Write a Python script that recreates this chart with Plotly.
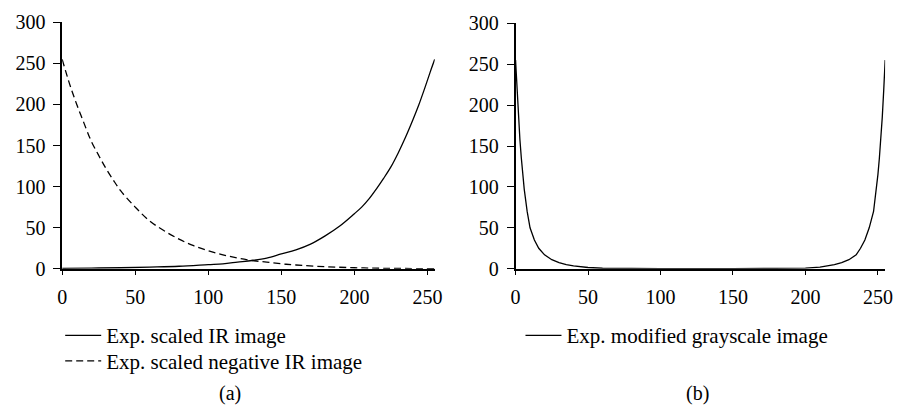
import plotly.graph_objects as go

# ---- data ----
ir_x = [0, 20, 40, 60, 80, 100, 110, 120, 130, 140, 150, 160, 170, 180, 190, 200, 205, 210, 215, 220, 225, 230,
        235, 240, 244, 248, 252, 255]
ir_y = [0.5, 0.8, 1.2, 2, 3, 5, 6, 8, 10, 13, 18, 23, 30, 40, 52, 67, 75, 85, 97, 110, 124, 141,
        160, 181, 199, 219, 240, 255]

neg_x = [0, 3, 6, 10, 15, 20, 25, 30, 35, 40, 50, 60, 70, 80, 90, 100, 110, 120, 130, 140, 150, 160, 180, 200, 220, 255]
neg_y = [255, 237, 220, 200, 177, 155, 138, 122, 108, 95, 75, 58, 46, 36, 28, 22, 17, 13, 10, 8, 6, 4.5, 2.5, 1.2, 0.5, 0]

gray_x = [0, 1, 2, 3, 4, 5, 6, 8, 10, 13, 16, 20, 25, 30, 35, 40, 50, 60, 80, 100, 150, 180, 200, 210, 215, 220,
          225, 230, 235, 238, 241, 244, 247, 249, 250, 251, 252, 253, 254, 255]
gray_y = [255, 218, 185, 158, 135, 115, 97, 70, 50, 35, 25, 17, 11, 7.5, 5, 3.5, 1.5, 0.6, 0.1, 0, 0, 0.1, 0.8, 2,
          3.5, 5, 7.5, 11, 17, 25, 35, 50, 70, 97, 115, 135, 158, 185, 218, 255]

x_ticks = [0, 50, 100, 150, 200, 250]
y_ticks = [0, 50, 100, 150, 200, 250, 300]
names = ["Exp. scaled IR image", "Exp. scaled negative IR image", "Exp. modified grayscale image"]
panel_labels = ["(a)", "(b)"]

W, H = 904, 419
FONT = "Liberation Serif"

def px(v):
    return v / W

def py(v):
    return 1 - v / H

fig = go.Figure()
fig.add_trace(go.Scatter(x=ir_x, y=ir_y, mode="lines", name=names[0], line_shape="spline",
                         line=dict(color="black", width=1.3), xaxis="x", yaxis="y", legend="legend"))
fig.add_trace(go.Scatter(x=neg_x, y=neg_y, mode="lines", name=names[1], line_shape="spline",
                         line=dict(color="black", width=1.3, dash="7px,4px"), xaxis="x", yaxis="y", legend="legend3"))
fig.add_trace(go.Scatter(x=gray_x, y=gray_y, mode="lines", name=names[2],
                         line=dict(color="black", width=1.3), xaxis="x2", yaxis="y2", legend="legend2"))

axis_common = dict(showgrid=False, zeroline=False, showline=True, linecolor="black", linewidth=1.5,
                   ticks="outside", tickcolor="black", tickwidth=1.2,
                   tickfont=dict(family=FONT, size=20, color="black"))

leg_common = dict(xanchor="left", yanchor="top", bgcolor="rgba(0,0,0,0)",
                  font=dict(family=FONT, size=21, color="black"), itemwidth=36)

fig.update_layout(
    width=W, height=H,
    margin=dict(l=0, r=0, t=0, b=0),
    paper_bgcolor="white", plot_bgcolor="white",
    font=dict(family=FONT, size=20, color="black"),
    xaxis=dict(domain=[px(58), px(436)], range=[0, 255], tickvals=x_ticks, ticklen=5,
               anchor="y", ticklabelstandoff=5, **axis_common),
    yaxis=dict(domain=[py(272), py(12)], range=[0, 300], tickvals=y_ticks, ticklen=7,
               anchor="x", ticklabelstandoff=4, **axis_common),
    xaxis2=dict(domain=[px(518), px(893)], range=[0, 255], tickvals=x_ticks, ticklen=5,
                anchor="y2", ticklabelstandoff=5, **axis_common),
    yaxis2=dict(domain=[py(272), py(13)], range=[0, 300], tickvals=y_ticks, ticklen=7,
                anchor="x2", ticklabelstandoff=4, **axis_common),
    legend=dict(x=px(56), y=py(321), **leg_common),
    legend3=dict(x=px(56), y=py(348), **leg_common),
    legend2=dict(x=px(523), y=py(321), **leg_common),
    showlegend=True,
    annotations=[
        dict(text=panel_labels[0], x=px(228), y=py(404), xref="paper", yref="paper", showarrow=False,
             xanchor="center", yanchor="middle", font=dict(family=FONT, size=20, color="black")),
        dict(text=panel_labels[1], x=px(703), y=py(404), xref="paper", yref="paper", showarrow=False,
             xanchor="center", yanchor="middle", font=dict(family=FONT, size=20, color="black")),
    ],
)

fig.write_html("out.html")
